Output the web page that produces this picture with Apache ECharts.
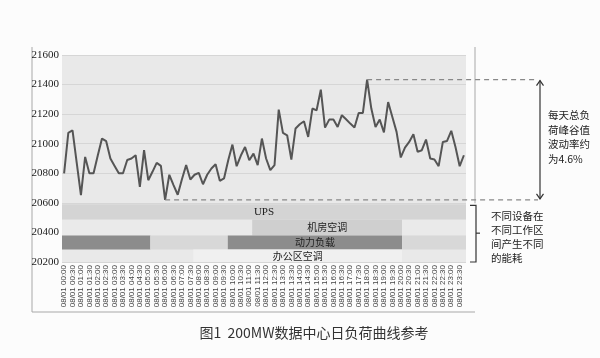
<!DOCTYPE html>
<html>
<head>
<meta charset="utf-8">
<script src="https://cdn.jsdelivr.net/npm/echarts@6/dist/echarts.min.js"></script>
<style>html,body{margin:0;padding:0;background:#fcfcfc;}#c{width:600px;height:358px;}</style>
</head>
<body>
<div id="c"></div>
<script>
// ---- data ----
const dayPrefix = '08/01';
const quarterHours = [];
for (let h = 0; h < 24; h++) for (const m of ['00','15','30','45']) quarterHours.push(dayPrefix + ' ' + String(h).padStart(2,'0') + ':' + m);

const load = [
  20800,21073,21091,20870,20652,20911,20800,20800,20920,21035,
  21017,20900,20850,20800,20800,20890,20900,20922,20708,20956,
  20753,20810,20870,20850,20620,20790,20720,20655,20760,20855,
  20758,20790,20803,20726,20790,20832,20861,20749,20765,20888,
  20994,20848,20920,20978,20888,20933,20855,21035,20900,20821,
  20855,21231,21073,21057,20893,21103,21132,21152,21046,21238,
  21226,21366,21109,21163,21163,21113,21193,21165,21136,21110,
  21208,21208,21434,21238,21113,21163,21076,21282,21181,21080,
  20907,20974,21012,21064,20945,20956,21028,20900,20893,20848,
  21012,21019,21087,20978,20848,20922
];

const yTicks = [20200,20400,20600,20800,21000,21200,21400,21600];

const rowNames = ['UPS','机房空调','动力负载','办公区空调'];
const rowTop =    [20590,20485,20380,20285];
const rowBottom = [20485,20380,20285,20200];
// [row, startHour, endHour, tone, showLabel]
const segments = [
  [0, 0, 24, 0, 1],
  [1, 0, 11.3, 1, 0],
  [1, 11.3, 20.2, 2, 1],
  [1, 20.2, 24, 1, 0],
  [2, 0, 5.25, 3, 0],
  [2, 5.25, 9.85, 4, 0],
  [2, 9.85, 20.2, 3, 1],
  [2, 20.2, 24, 4, 0],
  [3, 7.8, 20.2, 5, 1]
];
const toneColors = ['#d4d4d4','#eaeaea','#cfcfcf','#8c8c8c','#d8d8d8','#f0f0f0'];

const annotationPeak = '每天总负\n荷峰谷值\n波动率约\n为4.6%';
const annotationBands = '不同设备在\n不同工作区\n间产生不同\n的能耗';
const caption = '图1  200MW数据中心日负荷曲线参考';

// ---- chart ----
const chart = echarts.init(document.getElementById('c'), null, {renderer:'canvas'});
const option = {
  backgroundColor: '#fcfcfc',
  animation: false,
  grid: {left: 62, right: 134, top: 55, bottom: 96, show: true, backgroundColor: '#e9e9e9', borderWidth: 0},
  xAxis: [{
    type: 'category', data: quarterHours, boundaryGap: true,
    axisLine: {show: false}, axisTick: {show: false},
    axisLabel: {interval: 1, rotate: 90, fontSize: 8, color: '#444', fontFamily: 'Liberation Sans', margin: 3},
    splitLine: {show: false}
  }, {
    type: 'value', min: 0, max: 24, show: false
  }],
  yAxis: {
    type: 'value', min: yTicks[0], max: yTicks[yTicks.length-1], interval: 200,
    axisLine: {show: false}, axisTick: {show: false},
    axisLabel: {fontSize: 11, color: '#222', fontFamily: 'Liberation Serif', margin: 3, formatter: v => String(v)},
    splitLine: {lineStyle: {color: '#d6d6d6', width: 1}}
  },
  series: [{
    type: 'custom', xAxisIndex: 1, yAxisIndex: 0,
    data: segments,
    renderItem: function (params, api) {
      const row = api.value(0), s = api.value(1), e = api.value(2), tone = api.value(3), lab = api.value(4);
      const p0 = api.coord([s, rowTop[row]]);
      const p1 = api.coord([e, rowBottom[row]]);
      const children = [{
        type: 'rect', shape: {x: p0[0], y: p0[1], width: p1[0]-p0[0], height: p1[1]-p0[1]},
        style: {fill: toneColors[tone]}
      }];
      if (lab) {
        children.push({
          type: 'text',
          style: {
            text: rowNames[row], x: (p0[0]+p1[0])/2, y: (p0[1]+p1[1])/2,
            align: 'center', verticalAlign: 'middle', fill: '#222',
            font: row === 0 ? '11px "Liberation Serif"' : '10px "Noto Sans CJK SC"'
          }
        });
      }
      return {type: 'group', children: children};
    },
    z: 1
  }, {
    type: 'line', data: load, symbol: 'none', smooth: false,
    lineStyle: {color: '#555', width: 2}, z: 3
  }]
};
chart.setOption(option);

// annotation graphics derived from data
let maxV = -Infinity, minV = Infinity, maxI = 0, minI = 0;
load.forEach((v, i) => { if (v > maxV) {maxV = v; maxI = i;} if (v < minV) {minV = v; minI = i;} });
const pMax = chart.convertToPixel({xAxisIndex: 0, yAxisIndex: 0}, [maxI, maxV]);
const pMin = chart.convertToPixel({xAxisIndex: 0, yAxisIndex: 0}, [minI, minV]);
const bandTopY = chart.convertToPixel({yAxisIndex: 0}, rowTop[0]);
const bandBotY = chart.convertToPixel({yAxisIndex: 0}, rowBottom[3]);
const arrowX = 540, dashEnd = 538, frameR = 475;
const dash = {stroke: '#888', lineWidth: 1.3, lineDash: [5, 4]};
const ink = {stroke: '#333', lineWidth: 1.2, fill: null};
const frame = {stroke: '#a8a8a8', lineWidth: 1};
const g = [
  {type:'line', shape:{x1:32,y1:47,x2:32,y2:312}, style:frame},
  {type:'line', shape:{x1:32,y1:312,x2:frameR,y2:312}, style:frame},
  {type:'line', shape:{x1:frameR,y1:47,x2:frameR,y2:bandTopY-1}, style:frame},
  {type:'line', shape:{x1:pMax[0],y1:pMax[1],x2:dashEnd,y2:pMax[1]}, style:dash, z:10},
  {type:'line', shape:{x1:pMin[0],y1:pMin[1],x2:dashEnd,y2:pMin[1]}, style:dash, z:10},
  {type:'line', shape:{x1:arrowX,y1:pMax[1]+1,x2:arrowX,y2:pMin[1]-1}, style:ink},
  {type:'polyline', shape:{points:[[arrowX-3.5,pMax[1]+6],[arrowX,pMax[1]+1],[arrowX+3.5,pMax[1]+6]]}, style:ink},
  {type:'polyline', shape:{points:[[arrowX-3.5,pMin[1]-6],[arrowX,pMin[1]-1],[arrowX+3.5,pMin[1]-6]]}, style:ink},
  {type:'polyline', shape:{points:[[frameR-5,bandTopY+1],[frameR+1,bandTopY+1],[frameR+1,bandBotY],[frameR-5,bandBotY]]}, style:ink},
  {type:'line', shape:{x1:frameR+1,y1:(bandTopY+bandBotY)/2,x2:frameR+5,y2:(bandTopY+bandBotY)/2}, style:ink},
  {type:'text', style:{text:annotationPeak, x:548, y:108, font:'10.5px "Noto Sans CJK SC"', lineHeight:14.5, fill:'#222'}},
  {type:'text', style:{text:annotationBands, x:491, y:209, font:'10.5px "Noto Sans CJK SC"', lineHeight:14, fill:'#222'}},
  {type:'text', style:{text:caption, x:314, y:333, align:'center', verticalAlign:'middle', font:'14px "Noto Sans CJK SC"', fill:'#333'}}
];
chart.setOption({graphic: g});
</script>
</body>
</html>
